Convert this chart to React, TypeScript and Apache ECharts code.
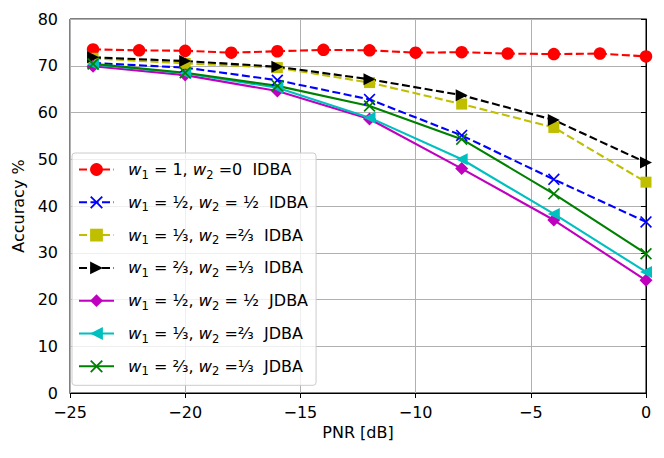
import React, { useEffect, useRef } from "react";
import * as echarts from "echarts";

const xFine = [-24, -22, -20, -18, -16, -14, -12, -10, -8, -6, -4, -2, 0];
const xCoarse = [-24, -20, -16, -12, -8, -4, 0];

const idba10 = [73.5, 73.3, 73.2, 72.8, 73.1, 73.4, 73.3, 72.8, 72.9, 72.6, 72.5, 72.6, 72.0];
const idbaHalf = [70.6, 69.6, 66.9, 62.8, 55.1, 45.7, 36.6];
const idbaThird = [71.6, 70.5, 69.6, 66.4, 61.8, 56.8, 45.1];
const idbaTwoThird = [71.8, 71.0, 69.8, 67.1, 63.7, 58.4, 49.3];
const jdbaHalf = [69.9, 68.0, 64.6, 58.6, 48.0, 37.0, 24.1];
const jdbaThird = [70.3, 68.4, 65.3, 58.9, 50.0, 38.3, 25.9];
const jdbaTwoThird = [70.4, 68.5, 65.7, 61.4, 54.3, 42.6, 29.8];

const seriesNames = ["s1", "s2", "s3", "s4", "s5", "s6", "s7"];
const legendTexts: Record<string, string> = {
  s1: "{i0|w}{s|1}{t| = 1, }{i|w}{s|2}{t| =0  IDBA}",
  s2: "{i0|w}{s|1}{t| = }{f|½}{t|, }{i|w}{s|2}{t| = }{f|½}{t|  IDBA}",
  s3: "{i0|w}{s|1}{t| = }{f|⅓}{t|, }{i|w}{s|2}{t| =}{f|⅔}{t|  IDBA}",
  s4: "{i0|w}{s|1}{t| = }{f|⅔}{t|, }{i|w}{s|2}{t| =}{f|⅓}{t|  IDBA}",
  s5: "{i0|w}{s|1}{t| = }{f|½}{t|, }{i|w}{s|2}{t| = }{f|½}{t|  JDBA}",
  s6: "{i0|w}{s|1}{t| = }{f|⅓}{t|, }{i|w}{s|2}{t| =}{f|⅔}{t|  JDBA}",
  s7: "{i0|w}{s|1}{t| = }{f|⅔}{t|, }{i|w}{s|2}{t| =}{f|⅓}{t|  JDBA}",
};

const X_PATH =
  "path://M0,1 L1,0 L5,4 L9,0 L10,1 L6,5 L10,9 L9,10 L5,6 L1,10 L0,9 L4,5 Z";
const TRI_RIGHT = "path://M0,0 L10,5 L0,10 Z";
const TRI_LEFT = "path://M10,0 L0,5 L10,10 Z";

const FONT = "DejaVu Sans";
const FS = 16;

function pairs(xs: number[], ys: number[]) {
  return xs.map((x, i) => [x, ys[i]]);
}

function fmtMinus(v: number) {
  return v < 0 ? "\u2212" + Math.abs(v) : String(v);
}

export default function App() {
  const ref = useRef<HTMLDivElement>(null);
  useEffect(() => {
    document.body.style.margin = "0";
    const chart = echarts.init(ref.current!, null, { renderer: "svg" });
    const dash = [8, 3.5];
    const mk = (
      name: string,
      xs: number[],
      ys: number[],
      color: string,
      symbol: string,
      size: number,
      dashed: boolean
    ) => ({
      name,
      type: "line",
      data: pairs(xs, ys),
      symbol,
      symbolSize: size,
      showSymbol: true,
      lineStyle: { color, width: 2.1, type: dashed ? dash : "solid" },
      itemStyle: { color, borderWidth: 0 },
      emphasis: { disabled: true },
    });
    chart.setOption({
      animation: false,
      textStyle: { fontFamily: FONT },
      grid: {
        left: 70,
        right: 18,
        top: 19,
        bottom: 65,
        show: true,
        borderColor: "#000",
        borderWidth: 1,
        backgroundColor: "transparent",
      },
      xAxis: {
        type: "value",
        min: -25,
        max: 0,
        interval: 5,
        name: "PNR [dB]",
        nameLocation: "middle",
        nameGap: 26,
        nameTextStyle: { color: "#000", fontSize: FS, fontFamily: FONT },
        axisLine: { show: true, onZero: false, lineStyle: { color: "#000", width: 1 } },
        axisTick: { show: true, inside: false, length: 5, lineStyle: { color: "#000", width: 1 } },
        axisLabel: {
          color: "#000",
          fontSize: FS,
          fontFamily: FONT,
          margin: 11,
          formatter: (v: number) => fmtMinus(v),
        },
        splitLine: { show: true, lineStyle: { color: "#b0b0b0", width: 1 } },
      },
      yAxis: {
        type: "value",
        min: 0,
        max: 80,
        interval: 10,
        name: "Accuracy %",
        nameLocation: "middle",
        nameGap: 41,
        nameTextStyle: { color: "#000", fontSize: FS, fontFamily: FONT },
        axisLine: { show: true, lineStyle: { color: "#000", width: 1 } },
        axisTick: { show: true, inside: false, length: 5, lineStyle: { color: "#000", width: 1 } },
        axisLabel: { color: "#000", fontSize: FS, fontFamily: FONT, margin: 12 },
        splitLine: { show: true, lineStyle: { color: "#b0b0b0", width: 1 } },
      },
      legend: {
        show: true,
        orient: "vertical",
        left: 72,
        top: 153,
        padding: [8, 8, 8, 6],
        itemGap: 13.3,
        itemWidth: 35,
        itemHeight: 16,
        backgroundColor: "rgba(255,255,255,0.8)",
        borderColor: "#cccccc",
        borderWidth: 1,
        borderRadius: 3,
        selectedMode: false,
        data: seriesNames,
        formatter: (name: string) => legendTexts[name],
        textStyle: {
          color: "#000",
          fontFamily: FONT,
          fontSize: FS,
          rich: {
            i0: { fontStyle: "italic", fontSize: 16.5, fontFamily: FONT, color: "#000", lineHeight: 22, padding: [0, 0, 0, 9] },
            i: { fontStyle: "italic", fontSize: 16.5, fontFamily: FONT, color: "#000", lineHeight: 22 },
            s: { fontSize: 11.5, fontFamily: FONT, color: "#000", lineHeight: 13, verticalAlign: "bottom" },
            t: { fontSize: 16, fontFamily: FONT, color: "#000", lineHeight: 22 },
            f: { fontSize: 16.5, fontFamily: FONT, color: "#000", lineHeight: 22 },
          },
        },
      },
      series: [
        mk("s1", xFine, idba10, "#ff0000", "circle", 12.5, true),
        mk("s2", xCoarse, idbaHalf, "#0000ff", X_PATH, 12, true),
        mk("s3", xCoarse, idbaThird, "#bfbf00", "rect", 11, true),
        mk("s4", xCoarse, idbaTwoThird, "#000000", TRI_RIGHT, 12, true),
        mk("s5", xCoarse, jdbaHalf, "#bf00bf", "diamond", 13, false),
        mk("s6", xCoarse, jdbaThird, "#00bfbf", TRI_LEFT, 12, false),
        mk("s7", xCoarse, jdbaTwoThird, "#008000", X_PATH, 12, false),
      ],
    });
    return () => chart.dispose();
  }, []);
  return <div ref={ref} style={{ width: 664, height: 458 }} />;
}
